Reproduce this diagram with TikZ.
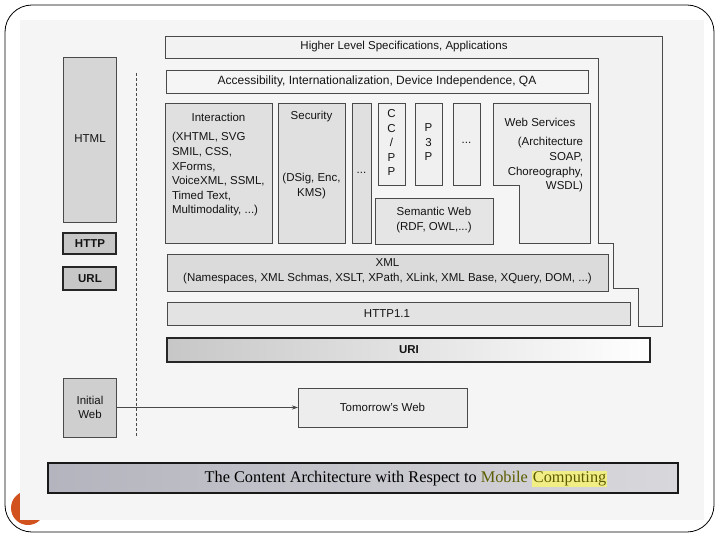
\documentclass[tikz,border=0pt]{standalone}
\usepackage{fontspec}
\setmainfont{Liberation Sans}
\newfontfamily\capfont{Liberation Serif}
\usetikzlibrary{arrows.meta}
\definecolor{edge}{HTML}{4A4A4A}
\definecolor{scanbg}{HTML}{F5F5F5}
\definecolor{orng}{HTML}{D2521F}
\definecolor{olivetxt}{HTML}{5C5C00}
\definecolor{hilite}{HTML}{F2EE86}
\definecolor{capleft}{HTML}{B4B4BE}
\definecolor{capright}{HTML}{D8D8DC}
\tikzset{
  box/.style={draw=edge, line width=0.8pt, inner sep=0pt, outer sep=0pt},
  darkbox/.style={draw=black!85, line width=1.4pt, inner sep=0pt, outer sep=0pt},
  lbl/.style={inner sep=0pt, outer sep=0pt, text=black!92},
  mline/.style={lbl, font=\fontsize{11.5}{14.6}\selectfont},
}
\begin{document}
\begin{tikzpicture}[x=1pt,y=-1pt,font=\fontsize{11.5}{14}\selectfont]
\useasboundingbox (0,0) rectangle (720,540);
% frame, orange mark, scan background
\fill[orng] (28,508) circle (17);
\fill[scanbg] (20,20) rectangle (704,520);
\draw[black, line width=0.8pt, rounded corners=27pt] (5,5) rectangle (714,532);

% left column
\node[box, fill=black!16, minimum width=53pt, minimum height=165pt] (html) at (89.5,139.5) {};
\node[lbl] (htmlt) at (90,139) {HTML};
\node[darkbox, fill=black!22, minimum width=53pt, minimum height=21pt] (http) at (89.5,243.5) {};
\node[lbl, font=\fontsize{11.5}{14}\selectfont\bfseries] (httpt) at (90,243.5) {HTTP};
\node[darkbox, fill=black!22, minimum width=53pt, minimum height=23pt] (url) at (89.5,278.5) {};
\node[lbl, font=\fontsize{11.5}{14}\selectfont\bfseries] (urlt) at (90,278.5) {URL};
\node[box, fill=black!19, minimum width=53pt, minimum height=59pt] (init) at (89.5,407.5) {};
\node[lbl, align=center, font=\fontsize{11.5}{14}\selectfont] (initt) at (90,407) {Initial\\Web};

% dashed divider
\coordinate (dtop) at (136,73);
\coordinate (dbot) at (136,437);
\draw[edge, line width=0.9pt, dash pattern=on 3pt off 2pt] (dtop) -- (dbot);

% higher level (L-shaped)
\draw[box, fill=black!5] (165,36) -- (662,36) -- (662,326) -- (638,326) -- (638,288) -- (613,288)
  -- (613,243) -- (598,243) -- (598,58) -- (165,58) -- cycle;
\node[lbl] (hl) at (404,47) {Higher Level Specifications, Applications};

\node[box, fill=black!4, minimum width=422pt, minimum height=23pt] (acc) at (377,81.5) {};
\node[lbl, font=\fontsize{12}{14}\selectfont] (acct) at (377,81.5) {Accessibility, Internationalization, Device Independence, QA};

% interaction
\node[box, fill=black!12, minimum width=107pt, minimum height=140pt] (inter) at (218.5,173) {};
\node[lbl] (intert) at (218.5,117) {Interaction};
\node[mline, align=left, anchor=north west] (interl) at (172,132.5) {(XHTML, SVG\\SMIL, CSS,\\XForms,\\VoiceXML, SSML,\\Timed Text,\\Multimodality, ...)};

% security
\node[box, fill=black!12, minimum width=67pt, minimum height=140pt] (sec) at (311.5,173) {};
\node[lbl] (sect) at (311.5,117) {Security};
\node[mline, align=center, anchor=north] (secl) at (311.5,173.5) {(DSig, Enc,\\KMS)};

\node[box, fill=black!12, minimum width=19pt, minimum height=140pt] (dots1) at (361.5,173) {};
\node[lbl] (dots1t) at (361.5,173) {...};

% CC/PP, P3P, ...
\node[box, fill=black!6, minimum width=27pt, minimum height=82pt] (ccpp) at (391.5,144) {};
\node[mline, align=center, anchor=north] (ccppt) at (391.5,109.5) {C\\C\\/\\P\\P};
\node[box, fill=black!6, minimum width=27pt, minimum height=82pt] (p3p) at (428.5,144) {};
\node[mline, align=center, anchor=north] (p3pt) at (428.5,123.5) {P\\3\\P};
\node[box, fill=black!6, minimum width=27pt, minimum height=82pt] (dots2) at (466.5,144) {};
\node[lbl] (dots2t) at (466.5,143) {...};

% web services (L-shaped)
\draw[box, fill=black!7] (493,103) -- (590,103) -- (590,243) -- (519,243) -- (519,185) -- (493,185) -- cycle;
\node[lbl] (ws) at (540,122) {Web Services};
\node[mline, align=right, anchor=north east] (wsl) at (583,137.5) {(Architecture\\SOAP,\\Choreography,\\WSDL)};

% semantic web
\node[box, fill=black!10, minimum width=118pt, minimum height=46pt] (sw) at (434,221) {};
\node[mline, align=center] (swt) at (434,220) {Semantic Web\\(RDF, OWL,...)};

% XML, HTTP1.1, URI
\node[box, fill=black!14, minimum width=441pt, minimum height=37pt] (xml) at (387.5,272.5) {};
\node[mline, align=center] (xmlt) at (387.5,271.5) {XML\\(Namespaces, XML Schmas, XSLT, XPath, XLink, XML Base, XQuery, DOM, ...)};
\node[box, fill=black!11, minimum width=463pt, minimum height=23pt] (http11) at (398.5,313.5) {};
\node[lbl] (http11t) at (387,313.5) {HTTP1.1};
\node[darkbox, left color=black!22, right color=white, minimum width=483pt, minimum height=24pt] (uri) at (408.5,350) {};
\node[lbl, font=\fontsize{11.5}{14}\selectfont\bfseries] (urit) at (409,349.5) {URI};

% tomorrow's web
\node[box, fill=black!7, minimum width=169pt, minimum height=39pt] (tw) at (382.5,407.5) {};
\node[lbl] (twt) at (382.5,407.5) {Tomorrow's Web};
\draw[edge, line width=0.7pt, -{Stealth[length=6pt,width=4pt]}] (init.east) -- (tw.west);

% caption bar
\node[draw=black!90, line width=1.8pt, left color=capleft, right color=capright, inner sep=0pt,
      minimum width=630pt, minimum height=30pt] (cap) at (363,478) {};
\node[inner sep=0pt, font=\capfont\fontsize{16.3}{18}\selectfont] (capt) at (406,479)
  {The Content Architecture with Respect to \textcolor{olivetxt}{Mobile} {\fboxsep=1pt\colorbox{hilite}{\textcolor{olivetxt}{Computing}}}};
\end{tikzpicture}
\end{document}
